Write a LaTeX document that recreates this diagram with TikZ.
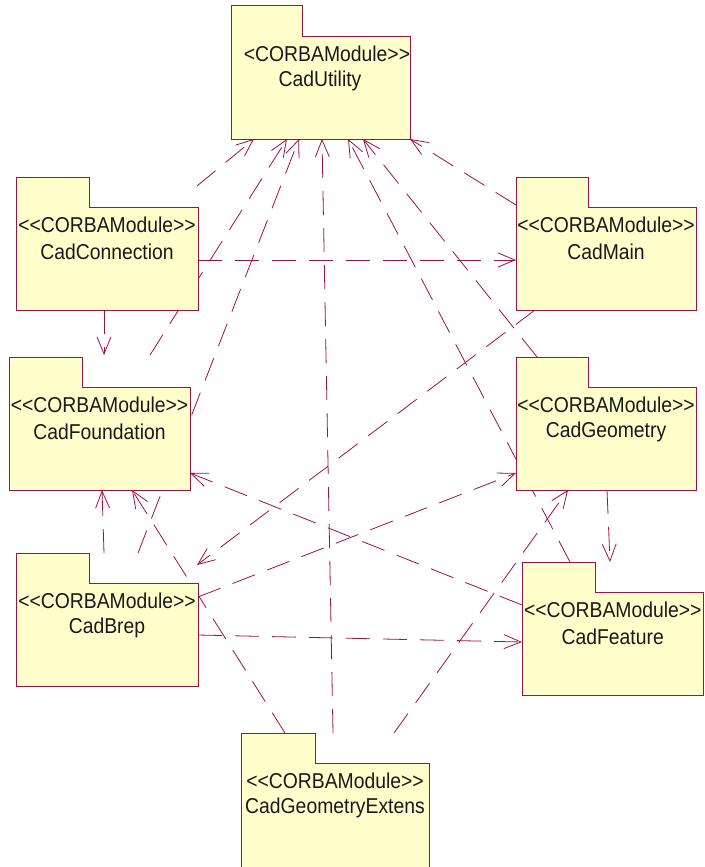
\documentclass[tikz,border=0pt]{standalone}
\usepackage{fontspec}
\setmainfont{Liberation Sans}[FakeStretch=0.9]
\usetikzlibrary{arrows.meta,calc,fit,backgrounds}
\definecolor{umlline}{RGB}{160,16,64}
\definecolor{umlfill}{RGB}{255,255,204}
\newcommand\umlpkg[8]{%
  \filldraw[pkgshape] (#2,#3) -- (#4,#3) -- (#4,#5) -- (#6,#5) -- (#6,#7) -- (#2,#7) -- cycle;
  \node[fit={(#2,#3) (#6,#7)}, pkgbb] (#1) {};
  \node[pkgtext] at ({(#2+#6)/2},{#5+17.5}) {<{}<CORBAModule>{}>};
  \node[pkgtext] at ({(#2+#6)/2},{#5+45}) {#8};
}
\begin{document}
\begin{tikzpicture}[x=1pt,y=-1pt,
  dep/.style={draw=umlline, line width=0.8pt, dash pattern=on 24pt off 13pt,
    -{Straight Barb[length=17pt,width=14pt,line width=0.8pt]}},
  pkgshape/.style={draw=umlline, fill=umlfill, line width=0.9pt},
  pkgbb/.style={inner sep=0pt, outer sep=0pt},
  pkgtext/.style={font=\fontsize{21.5}{24}\selectfont, inner sep=0pt, text=black!90},
]
\useasboundingbox (0,0) rectangle (704,867);

% CadUtility (stereotype printed with a single <)
\filldraw[pkgshape] (231,5) -- (302,5) -- (302,36) -- (410,36) -- (410,139) -- (231,139) -- cycle;
\node[fit={(231,5) (410,139)}, pkgbb] (util) {};
\node[pkgtext] at (327,53.5) {<CORBAModule>{}>};
\node[pkgtext] at (320,81) {CadUtility};

\umlpkg{conn}{16}{177}{89}{207}{198}{310}{CadConnection}
\umlpkg{main}{516}{177}{588}{207}{696}{310}{CadMain}
\umlpkg{found}{9}{357}{82}{387}{190}{490}{CadFoundation}
\umlpkg{geom}{516}{357}{588}{387}{696}{490}{CadGeometry}
\umlpkg{brep}{16}{553}{89}{583}{198}{686}{CadBrep}
\umlpkg{feat}{522}{562}{595}{592}{703.5}{695}{CadFeature}
\umlpkg{gext}{241}{733}{315}{763}{429}{867}{CadGeometryExtens}

\begin{pgfonlayer}{background}
\draw[dep] ($(conn.north east)+(-1,9)$) -- ($(util.south west)+(23,0)$);
\draw[dep] ($(conn.north east)+(0,83)$) -- ($(main.north west)+(0,83)$);
\draw[dep] ($(conn.south west)+(88,0)$) -- ($(found.north west)+(95,-2)$);
\draw[dep] ($(found.north east)+(-40,-2)$) -- ($(util.south west)+(56,0)$);
\draw[dep] ($(main.north west)+(0,28)$) -- (util.south east);
\draw[dep] ($(main.south west)+(19,0)$) -- ($(brep.north east)+(-1,12)$);
\draw[dep] ($(geom.north west)+(21,0)$) -- ($(util.south west)+(132,0)$);
\draw[dep] ($(geom.south west)+(91,0)$) -- ($(feat.north west)+(88,0)$);
\draw[dep] ($(brep.north west)+(122,0)$) -- ($(util.south west)+(68,0)$);
\draw[dep] ($(brep.north west)+(88,0)$) -- ($(found.south west)+(93,0)$);
\draw[dep] ($(brep.north east)+(0,44)$) -- ($(geom.north west)+(0,116)$);
\draw[dep] ($(brep.north east)+(0,82)$) -- ($(feat.north west)+(0,80)$);
\draw[dep] ($(feat.north west)+(48,0)$) -- ($(util.south west)+(117,0)$);
\draw[dep] ($(feat.north west)+(0,43)$) -- ($(found.north east)+(0,116)$);
\draw[dep] ($(gext.north west)+(44,0)$) -- ($(found.south west)+(123,0)$);
\draw[dep] ($(gext.north west)+(92,0)$) -- ($(util.south west)+(91,0)$);
\draw[dep] ($(gext.north west)+(153,0)$) -- ($(geom.south west)+(52,0)$);
\end{pgfonlayer}
\end{tikzpicture}
\end{document}
